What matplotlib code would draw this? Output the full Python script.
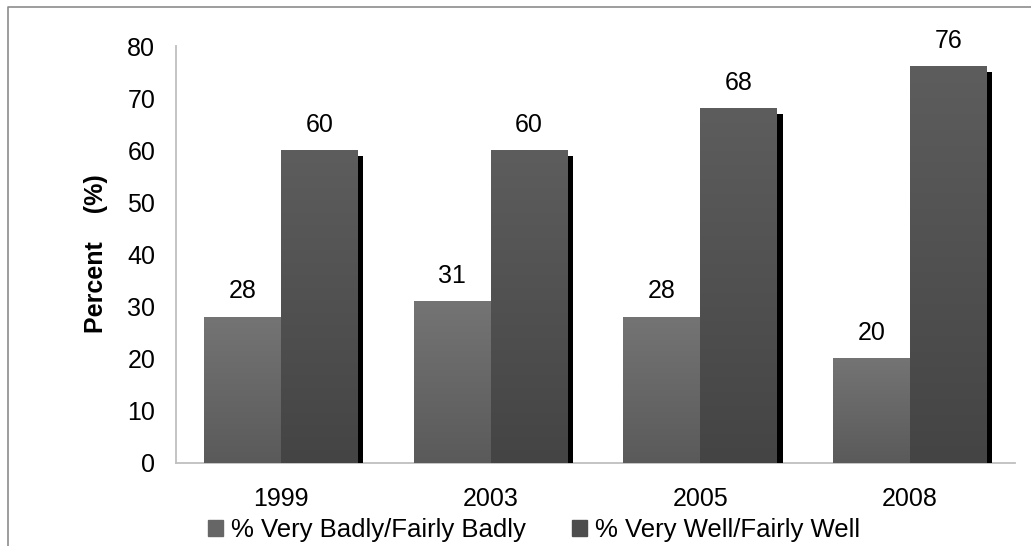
import matplotlib
matplotlib.use('Agg')
import matplotlib.pyplot as plt
import matplotlib.patheffects as pe
from matplotlib.colors import LinearSegmentedColormap
from matplotlib.patches import Rectangle
from matplotlib.lines import Line2D
import numpy as np

plt.rcParams['font.family'] = ['Liberation Sans', 'DejaVu Sans']

# data
years = ['1999', '2003', '2005', '2008']
badly = [28, 31, 28, 20]
well = [60, 60, 68, 76]
series_names = ['% Very Badly/Fairly Badly', '% Very Well/Fairly Well']

fig = plt.figure(figsize=(10.31, 5.46), dpi=100)
ax = fig.add_axes([176/1031, 1-463/546, (1015-176)/1031, (463-46)/546])

x = np.arange(len(years))
w = 0.367
fs = 18

# 渐变色
cm_light = LinearSegmentedColormap.from_list('l', ['#5a5a5a', '#747474'])
cm_dark = LinearSegmentedColormap.from_list('d', ['#444444', '#5d5d5d'])
grad = np.linspace(0, 1, 256).reshape(-1, 1)

b1 = ax.bar(x - w/2, badly, w, color='#666666', zorder=2)
b2 = ax.bar(x + w/2, well, w, color='#505050', zorder=3,
            path_effects=[pe.SimplePatchShadow(offset=(3.8, -3.8), shadow_rgbFace='black', alpha=1),
                          pe.Normal()])

for bars, cmap, z in [(b1, cm_light, 2.1), (b2, cm_dark, 3.1)]:
    for p in bars:
        x0, h, bw = p.get_x(), p.get_height(), p.get_width()
        ax.imshow(grad, extent=[x0, x0 + bw, 0, h], origin='lower', cmap=cmap,
                  aspect='auto', interpolation='bilinear', zorder=z)
        ax.annotate(str(int(h)), (x0 + bw/2, h), xytext=(0, 13.5), textcoords='offset points',
                    ha='center', va='baseline', fontsize=fs, zorder=5)

ax.set_xlim(-0.5, len(years) - 0.5)
ax.set_ylim(0, 80)
ax.set_yticks(range(0, 81, 10))
ax.set_xticks(x)
ax.set_xticklabels(years)
ax.tick_params(axis='both', length=0, labelsize=fs)
ax.tick_params(axis='x', pad=17)
ax.tick_params(axis='y', pad=15)
for s in ['top', 'right']:
    ax.spines[s].set_visible(False)
for s in ['left', 'bottom']:
    ax.spines[s].set_color('#bfbfbf')
    ax.spines[s].set_linewidth(1.3)
    ax.spines[s].set_zorder(1)

fig.text(96/1031, 1-254/546, 'Percent    (%)', rotation=90, ha='center', va='center',
         fontsize=fs, fontweight='bold')

handles = [Rectangle((0, 0), 1, 1, color='#666666'), Rectangle((0, 0), 1, 1, color='#4e4e4e')]
fig.legend(handles, series_names, loc='center', bbox_to_anchor=(534/1031, 1-530/546), ncol=2,
           frameon=False, fontsize=18.5, handlelength=0.6, handleheight=0.6, handletextpad=0.3,
           columnspacing=1.8, borderpad=0)

# 外框
fig.add_artist(Line2D([8/1031, 8/1031, 1], [0, 1-7/546, 1-7/546], color='#8c8c8c', lw=1.2))

fig.savefig('out.png', dpi=100)
